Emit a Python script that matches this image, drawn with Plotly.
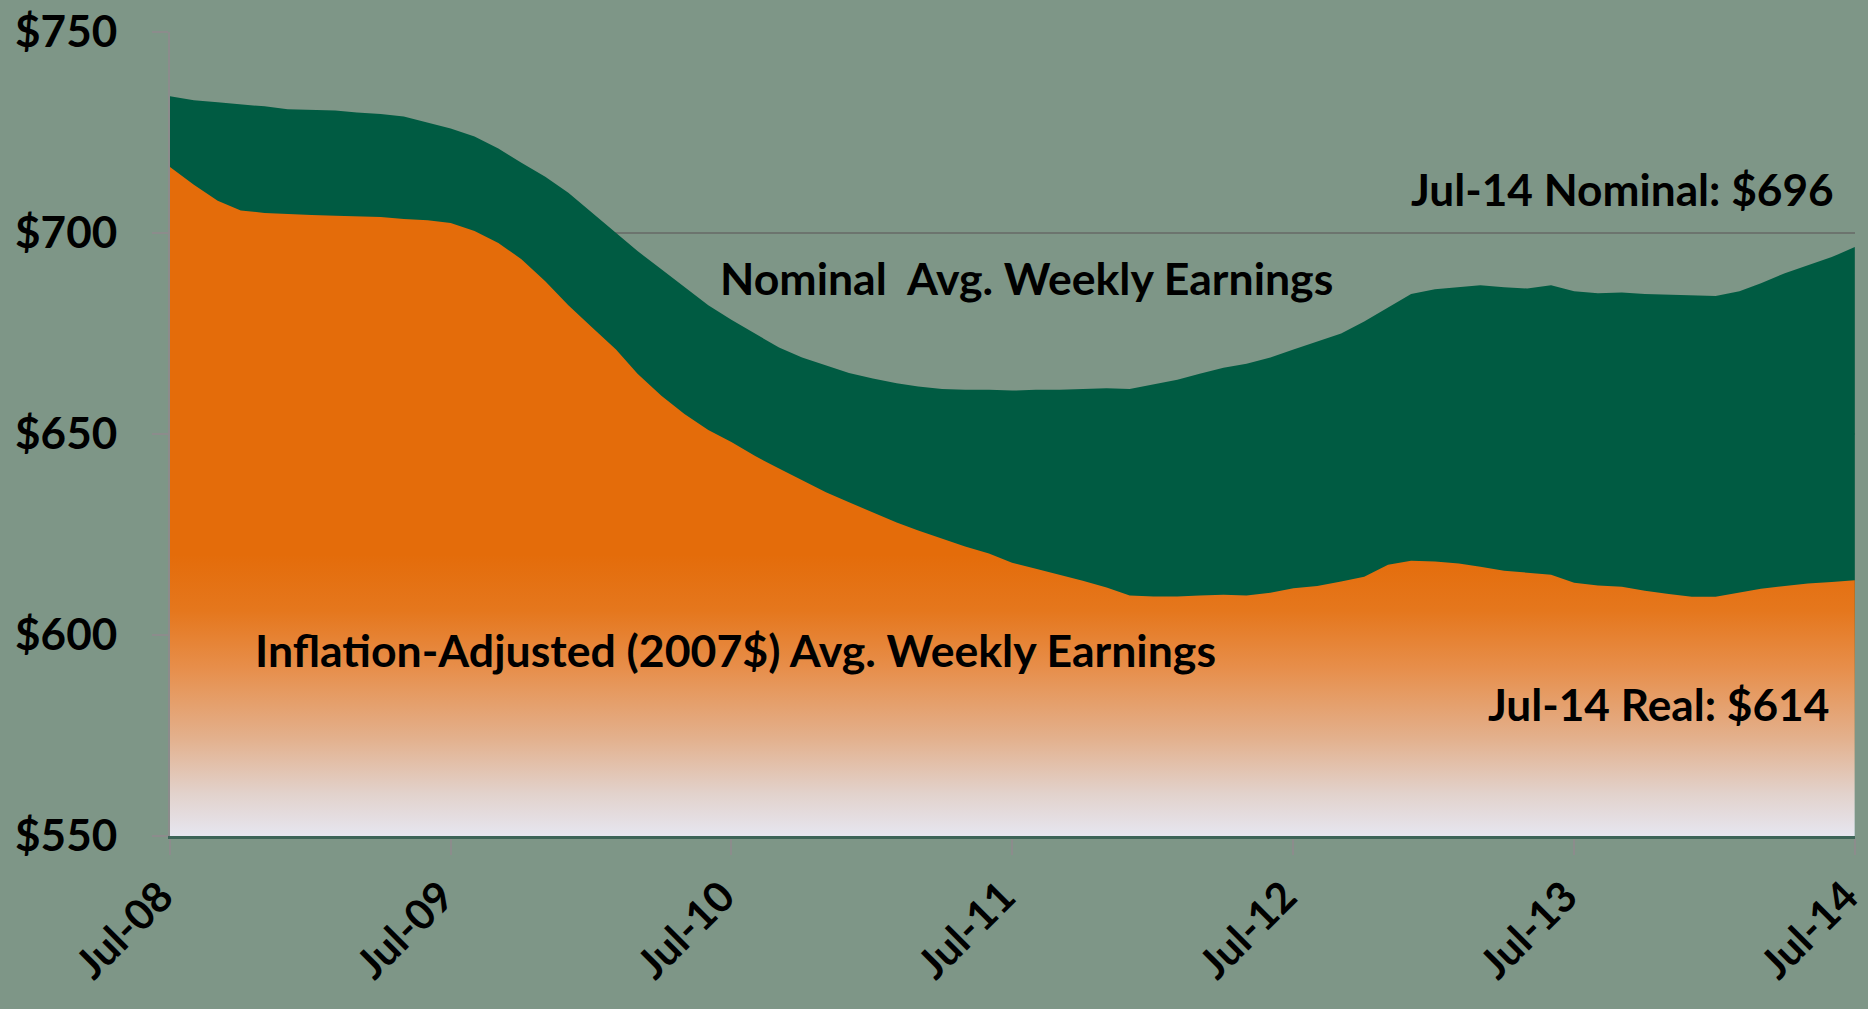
import pandas as pd
import plotly.graph_objects as go

months = pd.date_range("2008-07-01", periods=73, freq="MS")

nominal = [
    734.0, 733.0, 732.5, 732.0, 731.5, 730.8, 730.7, 730.5, 730.0, 729.6, 729.0, 727.5,
    726.0, 724.0, 721.0, 717.5, 714.0, 710.0, 705.0, 700.0, 695.5, 691.0, 686.5, 682.0,
    678.4, 675.0, 671.5, 669.0, 667.0, 665.2, 663.8, 662.6, 661.8, 661.2, 661.0, 661.0,
    660.8, 661.0, 661.0, 661.2, 661.4, 661.2, 662.3, 663.5, 665.0, 666.5, 667.5, 669.0,
    671.0, 673.0, 675.0, 678.0, 681.5, 684.8, 686.0, 686.5, 687.0, 686.5, 686.2, 687.0,
    685.5, 685.0, 685.2, 684.8, 684.6, 684.5, 684.3, 685.5, 687.5, 690.0, 692.0, 694.0,
    696.5,
]

real = [
    716.4, 712.0, 708.0, 705.6, 705.0, 704.7, 704.5, 704.3, 704.2, 704.0, 703.5, 703.2,
    702.5, 700.5, 697.5, 693.5, 688.0, 682.0, 676.5, 671.0, 665.0, 659.5, 655.0, 651.0,
    648.0, 644.5, 641.4, 638.5, 635.5, 633.0, 630.5, 628.0, 626.0, 624.0, 622.0, 620.3,
    618.0, 616.5, 615.0, 613.5, 611.8, 609.8, 609.6, 609.6, 609.8, 610.0, 609.8, 610.5,
    611.6, 612.2, 613.3, 614.5, 617.5, 618.5, 618.3, 617.8, 617.0, 616.0, 615.5, 615.0,
    613.0, 612.3, 612.0, 611.0, 610.2, 609.5, 609.5, 610.5, 611.5, 612.2, 612.8, 613.2,
    613.6,
]

tick_dates = ["2008-07-01", "2009-07-01", "2010-07-01", "2011-07-01",
              "2012-07-01", "2013-07-01", "2014-07-01"]
tick_labels = ["Jul-08", "Jul-09", "Jul-10", "Jul-11", "Jul-12", "Jul-13", "Jul-14"]
y_ticks = [550, 600, 650, 700, 750]
y_labels = ["$550", "$600", "$650", "$700", "$750"]

BG = "rgb(126,150,135)"
GREEN = "rgb(0,91,66)"
ORANGE = "rgb(228,108,10)"
FONT = "Lato"

fig = go.Figure()
fig.add_trace(go.Scatter(
    x=months, y=nominal, mode="lines", line=dict(width=0, color=GREEN),
    fill="tozeroy", fillcolor=GREEN, hoverinfo="skip", showlegend=False,
))
fig.add_trace(go.Scatter(
    x=months, y=real, mode="lines", line=dict(width=0, color=ORANGE),
    fill="tozeroy",
    fillgradient=dict(
        type="vertical", start=550, stop=620,
        colorscale=[
            [0.0, "rgb(230,230,240)"],
            [0.15, "rgb(226,210,204)"],
            [0.35, "rgb(227,176,140)"],
            [0.6, "rgb(231,142,74)"],
            [0.8, "rgb(229,119,29)"],
            [1.0, ORANGE],
        ],
    ),
    hoverinfo="skip", showlegend=False,
))

ann_font = dict(family=FONT, size=44.6, color="black", weight="bold")
fig.add_annotation(text="Nominal  Avg. Weekly Earnings", xref="paper", yref="y",
                   x=0.325, y=688.9, xanchor="left", yanchor="middle",
                   showarrow=False, font=ann_font)
fig.add_annotation(text="Inflation-Adjusted (2007$) Avg. Weekly Earnings", xref="paper", yref="y",
                   x=0.049, y=596.3, xanchor="left", yanchor="middle",
                   showarrow=False, font=ann_font)
fig.add_annotation(text="Jul-14 Nominal: $696", xref="paper", yref="y",
                   x=0.989, y=711.1, xanchor="right", yanchor="middle",
                   showarrow=False, font=dict(ann_font, size=44.2))
fig.add_annotation(text="Jul-14 Real: $614", xref="paper", yref="y",
                   x=0.986, y=582.9, xanchor="right", yanchor="middle",
                   showarrow=False, font=dict(ann_font, size=44.2))

fig.update_layout(
    width=1868, height=1009,
    margin=dict(l=170, r=13, t=32, b=173),
    paper_bgcolor=BG, plot_bgcolor=BG,
    font=dict(family=FONT, color="black"),
    xaxis=dict(
        range=["2008-07-01", "2014-07-01 06:00"],
        tickvals=tick_dates, ticktext=tick_labels, tickangle=-45,
        tickfont=dict(family=FONT, size=42, color="black", weight="bold"),
        ticklabeloverflow="allow", automargin=False, ticklabelshift=-9,
        showgrid=False, zeroline=False,
        showline=True, linecolor="rgb(60,100,88)", linewidth=3,
        ticks="outside", ticklen=16, tickwidth=2, tickcolor="rgb(140,140,140)",
    ),
    yaxis=dict(
        range=[550, 750], tickvals=y_ticks, ticktext=y_labels,
        tickfont=dict(family=FONT, size=44, color="black", weight="bold"),
        ticklabelstandoff=26, automargin=False,
        showgrid=True, gridcolor="rgb(108,116,110)", gridwidth=2,
        zeroline=False,
        showline=True, linecolor="rgb(140,140,140)", linewidth=2,
        ticks="outside", ticklen=16, tickwidth=2, tickcolor="rgb(140,140,140)",
    ),
)

fig.write_html(
    "out.html",
    config={"displayModeBar": False},
    post_script="document.body.style.margin='0';document.body.style.background='rgb(126,150,135)';",
)
